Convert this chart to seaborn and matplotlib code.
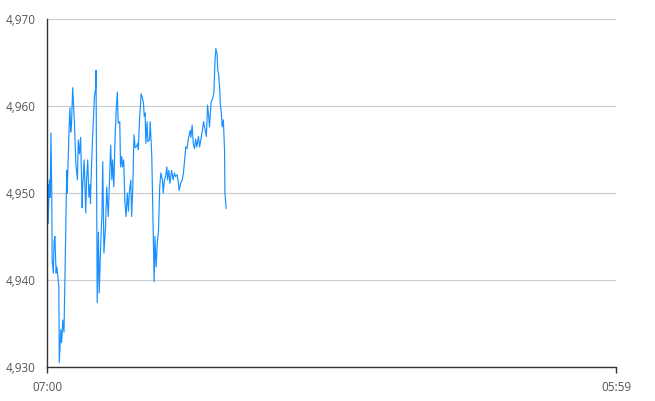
import matplotlib
matplotlib.use("Agg")
import matplotlib.pyplot as plt
import seaborn as sns
import pandas as pd
from matplotlib.ticker import FuncFormatter

# minutes after 07:00
minutes = [0, 2, 3, 6, 8, 10, 12, 13, 16, 18, 20, 23, 25, 30, 31, 35, 37, 40, 43, 46,
           50, 51, 56, 58, 60, 62, 65, 69, 73, 77, 79, 82, 85, 89, 90, 94, 98, 100, 103, 106,
           109, 110, 111, 115, 120, 123, 124, 127, 130, 132, 136, 139, 141, 144, 148, 151, 155, 161, 164, 166,
           169, 172, 175, 178, 180, 184, 186, 189, 191, 194, 197, 200, 203, 206, 208, 212, 214, 217, 220, 223,
           227, 229, 231, 234, 238, 241, 244, 246, 248, 250, 253, 255, 259, 261, 265, 267, 271, 273, 276, 279,
           282, 285, 288, 292, 294, 297, 300, 303, 305, 308, 311, 315, 319, 322, 325, 329, 332, 334, 338, 342,
           345, 349, 351, 354, 357, 362, 364, 367, 370, 373, 376, 379, 383, 386, 389, 393, 396, 400, 403, 406,
           409, 411, 415, 418, 422, 425, 427, 430, 432, 434, 437, 438, 441, 443, 446, 449, 450, 453]
values = [4944.3, 4951.0, 4946.5, 4951.5, 4949.5, 4956.9, 4950.0, 4942.3, 4940.8, 4944.5,
          4945.0, 4940.8, 4941.5, 4939.2, 4930.5, 4934.3, 4932.8, 4935.4, 4934.0, 4942.0,
          4952.6, 4950.0, 4957.6, 4959.8, 4957.0, 4958.0, 4962.1, 4958.4, 4953.4, 4951.5,
          4956.1, 4954.5, 4956.4, 4948.3, 4950.5, 4953.8, 4947.7, 4951.5, 4953.8, 4949.5,
          4951.0, 4948.8, 4951.0, 4956.1, 4961.1, 4962.0, 4964.1, 4937.4, 4945.5, 4938.5,
          4944.3, 4947.7, 4953.6, 4943.1, 4946.1, 4950.7, 4947.3, 4955.5, 4951.5, 4953.8,
          4950.7, 4956.1, 4959.5, 4961.6, 4958.0, 4958.2, 4953.0, 4954.2, 4953.0, 4953.8,
          4948.9, 4947.3, 4950.0, 4947.9, 4950.0, 4951.5, 4947.3, 4950.7, 4956.7, 4955.2,
          4955.4, 4955.7, 4955.0, 4958.4, 4961.4, 4961.0, 4960.3, 4958.8, 4959.2, 4955.7,
          4958.2, 4955.9, 4956.1, 4958.2, 4954.2, 4949.6, 4939.8, 4945.0, 4941.5, 4944.3,
          4945.7, 4950.7, 4952.3, 4951.5, 4950.0, 4951.5, 4951.9, 4953.0, 4951.5, 4952.6,
          4951.1, 4952.6, 4951.5, 4952.3, 4951.9, 4952.1, 4951.3, 4950.3, 4951.1, 4951.5,
          4952.3, 4954.2, 4955.3, 4955.1, 4956.1, 4957.2, 4956.4, 4957.8, 4955.7, 4955.1,
          4956.2, 4955.3, 4956.5, 4955.3, 4956.1, 4957.2, 4958.2, 4957.2, 4956.5, 4960.1,
          4958.8, 4957.6, 4960.5, 4960.7, 4961.5, 4965.3, 4966.6, 4966.0, 4964.1, 4963.7,
          4961.8, 4960.3, 4959.2, 4957.6, 4958.4, 4954.9, 4950.0, 4948.2]

y_ticks = [4930, 4940, 4950, 4960, 4970]
x_ticks = [0, 1439]
x_labels = ["07:00", "05:59"]

df = pd.DataFrame({"minute": minutes, "value": values})

sns.set_theme(style="white")
plt.rcParams['font.family'] = ['Open Sans', 'DejaVu Sans']

fig = plt.figure(figsize=(6.55, 4.01), dpi=100)
ax = fig.add_axes([47/655, 1 - 367/401, (616-47)/655, (367-19)/401])

sns.lineplot(data=df, x="minute", y="value", ax=ax, color="#1890ff", linewidth=0.85)

ax.set_xlim(0, 1439)
ax.set_ylim(4930, 4970)
ax.set_yticks(y_ticks)
ax.yaxis.set_major_formatter(FuncFormatter(lambda v, p: f"{int(v):,}"))
ax.set_xticks(x_ticks)
ax.set_xticklabels(x_labels)
ax.set_xlabel("")
ax.set_ylabel("")

ax.grid(axis="y", color="#cccccc", linewidth=0.8)
ax.grid(axis="x", visible=False)
ax.set_axisbelow(True)

for s in ["top", "right"]:
    ax.spines[s].set_visible(False)
for s in ["left", "bottom"]:
    ax.spines[s].set_color("#333333")
    ax.spines[s].set_linewidth(1.0)

ax.tick_params(axis="y", length=0, pad=8, labelsize=8.5, labelcolor="#555555")
ax.tick_params(axis="x", length=4, width=1, color="#333333", pad=6, labelsize=8.5,
               labelcolor="#555555", direction="out", bottom=True)

fig.savefig("out.png", dpi=100)
